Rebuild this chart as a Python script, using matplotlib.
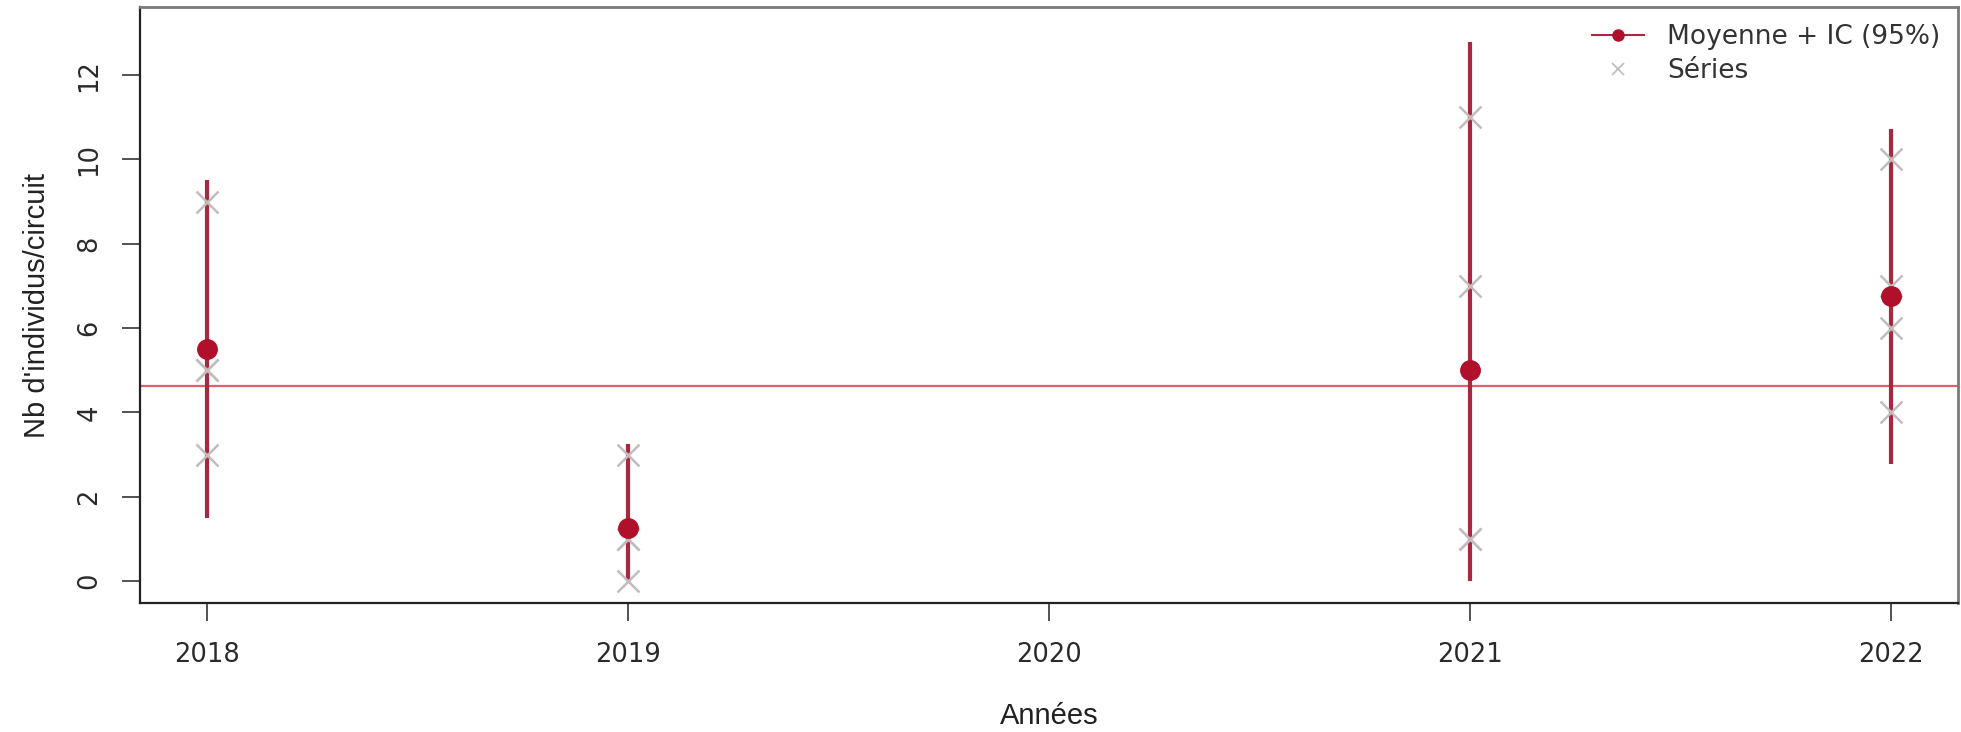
import matplotlib
matplotlib.use("Agg")
import matplotlib.pyplot as plt
from matplotlib.lines import Line2D

years = [2018, 2019, 2021, 2022]
series_2018 = [9, 5, 5, 3]
series_2019 = [3, 1, 1, 0]
series_2021 = [11, 7, 1, 1]
series_2022 = [10, 7, 6, 4]
means = [5.5, 1.25, 5.0, 6.75]
ci_low = [1.5, 0.0, 0.0, 2.77]
ci_high = [9.5, 3.25, 12.79, 10.73]
overall_mean = 4.625
xticks = [2018, 2019, 2020, 2021, 2022]
yticks = [0, 2, 4, 6, 8, 10, 12]

plt.rcParams['font.family'] = ['DejaVu Sans']

fig = plt.figure(figsize=(19.61, 7.32), dpi=100)
ax = fig.add_axes([0.0714, 0.1762, 0.927, 0.814])

all_series = [series_2018, series_2019, series_2021, series_2022]
red = '#b0102a'
ci_col = '#a8283f'
grey = '#c4bcbc'

ax.axhline(overall_mean, color='#e0606e', lw=1.6, zorder=1)
for yr, lo, hi in zip(years, ci_low, ci_high):
    ax.plot([yr, yr], [lo, hi], color=ci_col, lw=3.0, solid_capstyle='butt', zorder=2)
for yr, s in zip(years, all_series):
    ax.plot([yr] * len(s), s, linestyle='none', marker='x', ms=16, mew=1.8,
            color=grey, zorder=3)
ax.plot(years, means, linestyle='none', marker='o', ms=14, color=red, zorder=4)

ax.set_xlim(2017.841, 2022.159)
ax.set_ylim(-0.52, 13.61)
ax.set_xticks(xticks)
ax.set_xticklabels([str(x) for x in xticks], fontsize=18.5, color='#2a2a2a')
ax.set_yticks(yticks)
ax.set_yticklabels([str(y) for y in yticks], fontsize=18.5, rotation=90, va='center',
                   color='#2a2a2a')
ax.tick_params(axis='both', length=13, width=1.3, color='#444444')
ax.tick_params(axis='x', pad=15)
ax.tick_params(axis='y', pad=14)

for side in ['left', 'bottom']:
    ax.spines[side].set_color('#222222')
    ax.spines[side].set_linewidth(1.6)
for side in ['top', 'right']:
    ax.spines[side].set_color('#7a7a7a')
    ax.spines[side].set_linewidth(2.0)

ax.set_xlabel('Années', fontsize=21, color='#222222', family='Liberation Sans')
ax.xaxis.set_label_coords(0.5, -0.166)
ax.set_ylabel("Nb d'individus/circuit", fontsize=21, color='#222222',
              family='Liberation Sans')
ax.yaxis.set_label_coords(-0.049, 0.5)

handles = [
    Line2D([0], [0], color=ci_col, lw=1.5, marker='o', ms=8, mfc=red, mec=red),
    Line2D([0], [0], linestyle='none', marker='x', ms=8, mew=1.3, color=grey),
]
leg = ax.legend(handles, ['Moyenne + IC (95%)', 'Séries'], loc='upper right',
                frameon=False, fontsize=19, handlelength=1.95, labelspacing=0.3,
                borderaxespad=0.35, handletextpad=0.9, borderpad=0.3)
for t in leg.get_texts():
    t.set_color('#333333')

fig.savefig('out.png', dpi=100)
